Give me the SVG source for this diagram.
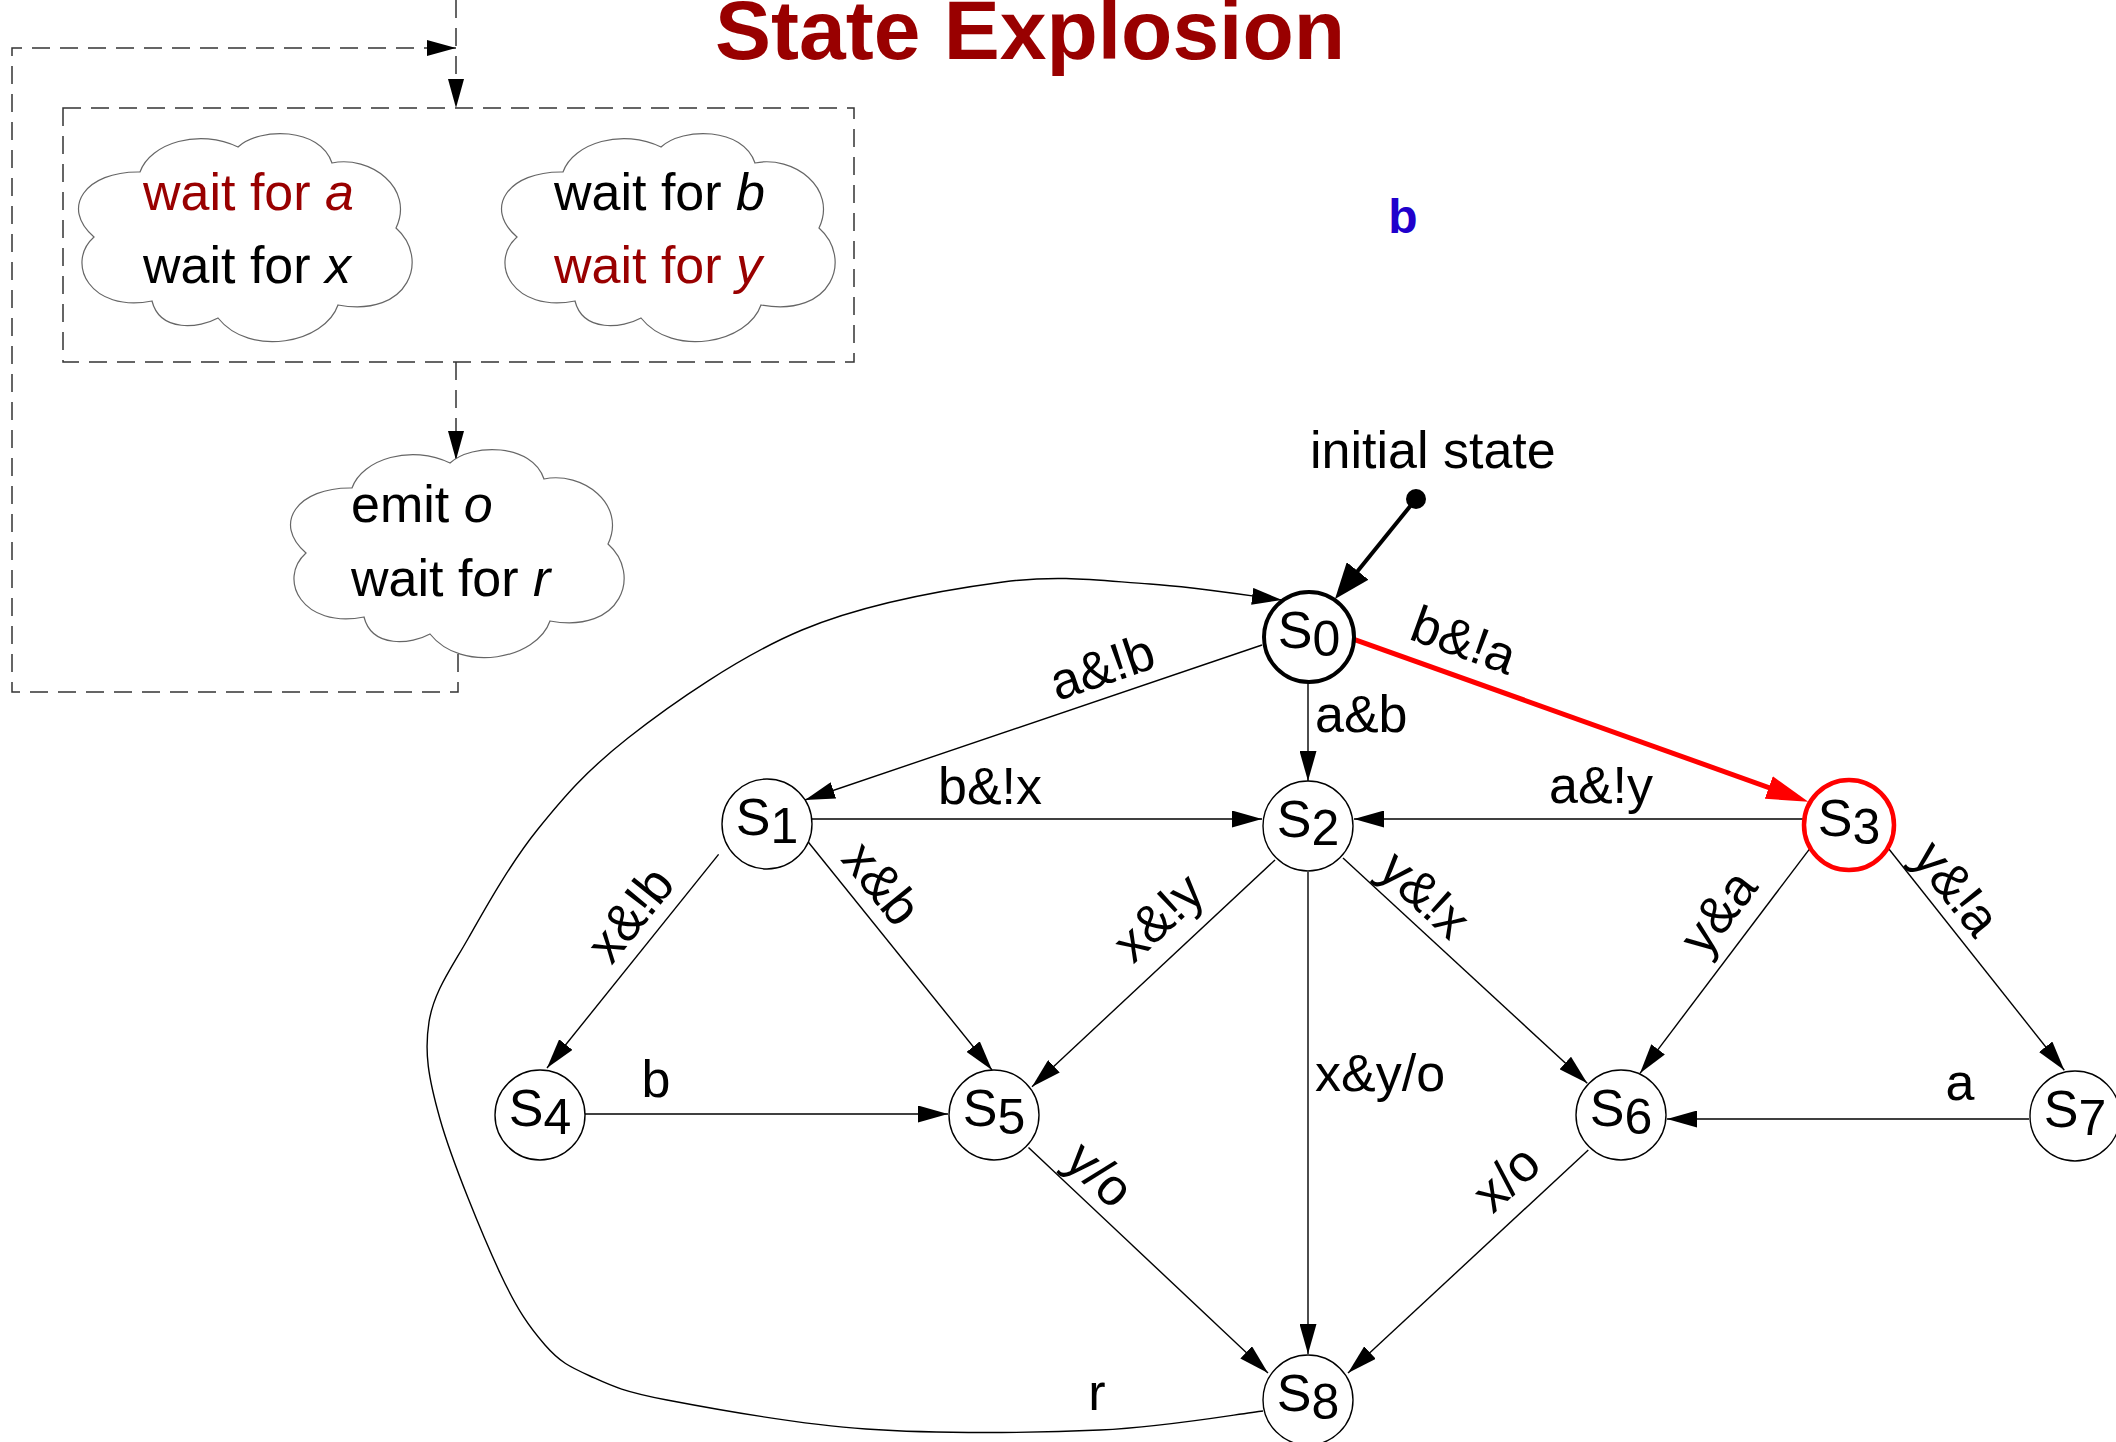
<svg xmlns="http://www.w3.org/2000/svg" width="2116" height="1442" viewBox="0 0 2116 1442">
<style>
text { font-family: "Liberation Sans", Arial, sans-serif; }
.t52 { font-size: 52px; fill: #000; }
.red { fill: #990000; }
.it { font-style: italic; }
.node { fill: #fff; stroke: #000; stroke-width: 1.4; }
.edge { fill: none; stroke: #000; stroke-width: 1.4; marker-end: url(#ah); }
.dash { fill: none; stroke: #333; stroke-width: 1.5; stroke-dasharray: 18 10; }
.cloud { fill: #fff; stroke: #666; stroke-width: 1.2; }
</style>
<defs>
<marker id="ah" viewBox="0 0 30 17" refX="30" refY="8.5" markerWidth="30" markerHeight="17" orient="auto" markerUnits="userSpaceOnUse"><path d="M0,0 L30,8.5 L0,17 Z" fill="#000"/></marker>
<marker id="ahd" viewBox="0 0 29 16" refX="29" refY="8" markerWidth="29" markerHeight="16" orient="auto" markerUnits="userSpaceOnUse"><path d="M0,0 L29,8 L0,16 Z" fill="#000"/></marker>
<marker id="ahk" viewBox="0 0 36 28" refX="26" refY="14" markerWidth="36" markerHeight="28" orient="auto" markerUnits="userSpaceOnUse"><path d="M0,0 L36,14 L0,28 Z" fill="#000"/></marker>
<marker id="ahr" viewBox="0 0 42 24" refX="32" refY="12" markerWidth="42" markerHeight="24" orient="auto" markerUnits="userSpaceOnUse"><path d="M0,0 L42,12 L0,24 Z" fill="#ff0000"/></marker>
<path id="cloud" d="M60,39 C70,10 120,-5 158,14 C180,-6 240,-6 252,30 C290,22 335,55 316,95 C350,125 330,185 258,172 C245,210 170,225 138,185 C120,195 80,200 72,168 C10,180 -15,130 14,104 C-20,75 5,38 60,39 Z"/>
</defs>
<rect width="2116" height="1442" fill="#fff"/>

<g id="title">
<text x="1030" y="59" text-anchor="middle" font-size="84" font-weight="bold" fill="#990000">State Explosion</text>
</g>
<g id="label-b">
<text x="1403" y="233" text-anchor="middle" font-size="48" font-weight="bold" fill="#2000cc">b</text>
</g>

<!-- left: process sketch -->
<g id="flow-connectors">
<path class="dash" d="M456,0 V108" marker-end="url(#ahd)"/>
<path class="dash" d="M458,654 V692 H12 V48 H456" marker-end="url(#ahd)"/>
<path class="dash" d="M456,362 V460" marker-end="url(#ahd)"/>
</g>
<g id="par-box">
<rect class="dash" x="63" y="108" width="791" height="254"/>
</g>
<g id="cloud-a">
<use href="#cloud" class="cloud" x="80" y="133"/>
<text class="t52 red" x="143" y="210">wait for <tspan class="it">a</tspan></text>
<text class="t52" x="143" y="283">wait for <tspan class="it">x</tspan></text>
</g>
<g id="cloud-b">
<use href="#cloud" class="cloud" x="503" y="133"/>
<text class="t52" x="554" y="210">wait for <tspan class="it">b</tspan></text>
<text class="t52 red" x="554" y="283">wait for <tspan class="it">y</tspan></text>
</g>
<g id="cloud-emit">
<use href="#cloud" class="cloud" x="292" y="449"/>
<text class="t52" x="351" y="522">emit <tspan class="it">o</tspan></text>
<text class="t52" x="351" y="596">wait for <tspan class="it">r</tspan></text>
</g>

<!-- state machine connectors -->
<g id="connectors">
<circle cx="1416" cy="499" r="10" fill="#000"/>
<path d="M1416,499 L1341.3,591.2" fill="none" stroke="#000" stroke-width="4" marker-end="url(#ahk)"/>
<path d="M1354,639.3 L1798.9,798.3" fill="none" stroke="#ff0000" stroke-width="5" marker-end="url(#ahr)"/>
<path class="edge" d="M1308,683 V781"/>
<path class="edge" d="M1262,645 L805,800"/>
<path class="edge" d="M812,819 H1262"/>
<path class="edge" d="M1803,819 H1354"/>
<path class="edge" d="M718.6,854.4 L547,1068"/>
<path class="edge" d="M805,838 L992,1070"/>
<path class="edge" d="M1275,860 L1032,1086.7"/>
<path class="edge" d="M585,1114 H948"/>
<path class="edge" d="M1028.5,1147.5 L1268,1373"/>
<path class="edge" d="M1308,872 V1354"/>
<path class="edge" d="M1343,858 L1587.3,1083.3"/>
<path class="edge" d="M1810,848.3 L1640,1073.3"/>
<path class="edge" d="M1888.3,848.3 L2064.3,1070.3"/>
<path class="edge" d="M2029,1119 H1667"/>
<path class="edge" d="M1588.3,1150 L1348,1373"/>
<path class="edge" d="M1263,1411 C1235.8,1414.2 1166.2,1427 1100,1430 C1033.8,1433 938.2,1434 866,1429 C793.8,1424 713,1408.8 667,1400 C621,1391.2 610.3,1385.2 590,1376 C569.7,1366.8 560,1362.2 545,1345 C530,1327.8 517.5,1310.7 500,1273 C482.5,1235.3 451.8,1160.8 440,1119 C428.2,1077.2 424.2,1052.3 429,1022 C433.8,991.7 450.8,969.2 469,937 C487.2,904.8 511.2,862.2 538,829 C564.8,795.8 586,771.2 628,738 C670,704.8 739.8,656 802,630 C864.2,604 945,589.7 1003,582 C1061,574.3 1103.5,581 1150,584 C1196.5,587 1260,597.3 1282,600"/>
</g>

<g id="edge-labels" class="t52">
<text x="1310" y="468">initial state</text>
<text transform="translate(1464,640) rotate(20)" y="18" text-anchor="middle">b&amp;!a</text>
<text x="1315" y="732">a&amp;b</text>
<text transform="translate(1102,667) rotate(-18.8)" y="18" text-anchor="middle">a&amp;!b</text>
<text x="938" y="804">b&amp;!x</text>
<text x="1549" y="803">a&amp;!y</text>
<text transform="translate(630,914) rotate(-51.4)" y="18" text-anchor="middle">x&amp;!b</text>
<text transform="translate(882,883) rotate(50.9)" y="18" text-anchor="middle">x&amp;b</text>
<text transform="translate(1158,917) rotate(-43)" y="18" text-anchor="middle">x&amp;!y</text>
<text transform="translate(1425,894) rotate(42.7)" y="18" text-anchor="middle">y&amp;!x</text>
<text transform="translate(1718,912) rotate(-52.9)" y="18" text-anchor="middle">y&amp;a</text>
<text transform="translate(1957,888) rotate(51.6)" y="18" text-anchor="middle">y&amp;!a</text>
<text x="656" y="1097" text-anchor="middle">b</text>
<text x="1960" y="1100" text-anchor="middle">a</text>
<text x="1315" y="1091">x&amp;y/o</text>
<text transform="translate(1100,1174) rotate(42.9)" y="18" text-anchor="middle">y/o</text>
<text transform="translate(1506,1178) rotate(-42.9)" y="18" text-anchor="middle">x/o</text>
<text x="1097" y="1410" text-anchor="middle">r</text>
</g>

<g id="s0"><circle cx="1309" cy="637" r="45" fill="#fff" stroke="#000" stroke-width="4"/><text class="t52" x="1309" y="648" text-anchor="middle">S<tspan dy="8" font-size="50">0</tspan></text></g>
<g id="s1"><circle class="node" cx="767" cy="824" r="45"/><text class="t52" x="767" y="835" text-anchor="middle">S<tspan dy="8" font-size="50">1</tspan></text></g>
<g id="s2"><circle class="node" cx="1308" cy="826" r="45"/><text class="t52" x="1308" y="837" text-anchor="middle">S<tspan dy="8" font-size="50">2</tspan></text></g>
<g id="s3"><circle cx="1849" cy="825" r="45" fill="#fff" stroke="#ff0000" stroke-width="4.5"/><text class="t52" x="1849" y="836" text-anchor="middle">S<tspan dy="8" font-size="50">3</tspan></text></g>
<g id="s4"><circle class="node" cx="540" cy="1115" r="45"/><text class="t52" x="540" y="1126" text-anchor="middle">S<tspan dy="8" font-size="50">4</tspan></text></g>
<g id="s5"><circle class="node" cx="994" cy="1115" r="45"/><text class="t52" x="994" y="1126" text-anchor="middle">S<tspan dy="8" font-size="50">5</tspan></text></g>
<g id="s6"><circle class="node" cx="1621" cy="1115" r="45"/><text class="t52" x="1621" y="1126" text-anchor="middle">S<tspan dy="8" font-size="50">6</tspan></text></g>
<g id="s7"><circle class="node" cx="2075" cy="1116" r="45"/><text class="t52" x="2075" y="1127" text-anchor="middle">S<tspan dy="8" font-size="50">7</tspan></text></g>
<g id="s8"><circle class="node" cx="1308" cy="1400" r="45"/><text class="t52" x="1308" y="1411" text-anchor="middle">S<tspan dy="8" font-size="50">8</tspan></text></g>
</svg>
